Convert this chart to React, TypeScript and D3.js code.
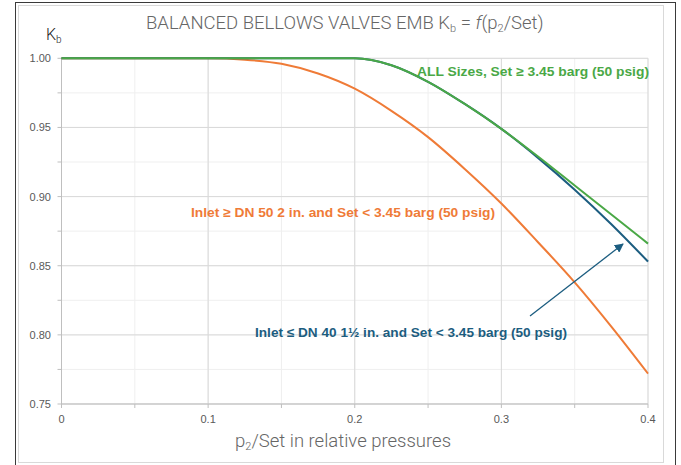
import React from "react";
import * as d3 from "d3";

const xTicks = [0, 0.1, 0.2, 0.3, 0.4];
const yTicks = [0.75, 0.8, 0.85, 0.9, 0.95, 1.0];

const orangeX = [0, 0.05, 0.1, 0.125, 0.15, 0.175, 0.2, 0.225, 0.25, 0.275, 0.3, 0.325, 0.35, 0.375, 0.4];
const orangeY = [1, 1, 1, 0.999, 0.996, 0.989, 0.978, 0.962, 0.943, 0.92, 0.895, 0.867, 0.838, 0.806, 0.772];

const greenX = [0, 0.05, 0.1, 0.15, 0.2, 0.225, 0.25, 0.275, 0.3, 0.325, 0.35, 0.375, 0.4];
const greenY = [1, 1, 1, 1, 1, 0.995, 0.983, 0.967, 0.949, 0.929, 0.908, 0.887, 0.866];

const blueX = [0, 0.05, 0.1, 0.15, 0.2, 0.225, 0.25, 0.275, 0.3, 0.325, 0.35, 0.375, 0.4];
const blueY = [1, 1, 1, 1, 1, 0.995, 0.983, 0.967, 0.949, 0.928, 0.905, 0.88, 0.853];

const W = 681;
const H = 465;
const L = 61.5;
const R = 648;
const T = 58.3;
const B = 404;

const GREEN = "#4aa846";
const ORANGE = "#ef7b37";
const BLUE = "#1c5d80";

export default function App() {
  const x = d3.scaleLinear().domain([0, 0.4]).range([L, R]);
  const y = d3.scaleLinear().domain([0.75, 1.0]).range([B, T]);
  const line = d3
    .line<[number, number]>()
    .x((d) => x(d[0]))
    .y((d) => y(d[1]))
    .curve(d3.curveMonotoneX);

  const toPts = (xs: number[], ys: number[]) => xs.map((v, i) => [v, ys[i]] as [number, number]);

  const xMinor = d3.range(0, 0.4001, 0.05);
  const yMinor = d3.range(0.75, 1.0001, 0.025);

  const font = "'Liberation Sans', Arial, sans-serif";
  const titleFont = "Roboto, 'Noto Sans', sans-serif";

  return (
    <div style={{ position: "fixed", left: 0, top: 0 }}>
      <svg width={W} height={H} style={{ display: "block", background: "#fff" }}>
        <defs>
          <marker id="arrow" viewBox="0 0 10 10" refX="9" refY="5" markerWidth="7" markerHeight="7" orient="auto">
            <path d="M0,0 L10,5 L0,10 z" fill={BLUE} />
          </marker>
        </defs>
        {/* frame */}
        <rect x={15.5} y={2.5} width={660} height={470} fill="none" stroke="#3a3a3a" strokeWidth={1} />
        <rect x={18.5} y={5.5} width={645} height={457} fill="none" stroke="#d9d9d9" strokeWidth={1} />

        {/* minor grid */}
        {xMinor.map((v, i) => (
          <line key={"xm" + i} x1={x(v)} x2={x(v)} y1={T} y2={B} stroke="#efefef" />
        ))}
        {yMinor.map((v, i) => (
          <line key={"ym" + i} x1={L} x2={R} y1={y(v)} y2={y(v)} stroke="#efefef" />
        ))}
        {/* major grid */}
        {xTicks.map((v, i) => (
          <line key={"xg" + i} x1={x(v)} x2={x(v)} y1={T} y2={B} stroke="#d9d9d9" />
        ))}
        {yTicks.map((v, i) => (
          <line key={"yg" + i} x1={L} x2={R} y1={y(v)} y2={y(v)} stroke="#d9d9d9" />
        ))}

        {/* axes */}
        <line x1={L} x2={L} y1={T} y2={B} stroke="#bfbfbf" />
        <line x1={L} x2={R} y1={B} y2={B} stroke="#bfbfbf" />
        {yMinor.map((v, i) => (
          <line key={"yt" + i} x1={L - 4} x2={L} y1={y(v)} y2={y(v)} stroke="#bfbfbf" />
        ))}
        {xMinor.map((v, i) => (
          <line key={"xt" + i} x1={x(v)} x2={x(v)} y1={B} y2={B + 4} stroke="#bfbfbf" />
        ))}

        {/* tick labels */}
        {yTicks.map((v, i) => (
          <text key={"yl" + i} x={51} y={y(v) + 4} textAnchor="end" fontFamily={font} fontSize={11} fill="#595959">
            {v.toFixed(2)}
          </text>
        ))}
        {xTicks.map((v, i) => (
          <text key={"xl" + i} x={x(v)} y={423} textAnchor="middle" fontFamily={font} fontSize={11} fill="#595959">
            {v === 0 ? "0" : String(v)}
          </text>
        ))}

        {/* curves */}
        <path d={line(toPts(orangeX, orangeY)) || ""} fill="none" stroke={ORANGE} strokeWidth={2} />
        <path d={line(toPts(blueX, blueY)) || ""} fill="none" stroke={BLUE} strokeWidth={2} />
        <path d={line(toPts(greenX, greenY)) || ""} fill="none" stroke={GREEN} strokeWidth={2} />

        {/* annotation arrow */}
        <line x1={530} y1={316} x2={623} y2={244} stroke={BLUE} strokeWidth={1.3} markerEnd="url(#arrow)" />

        {/* series labels */}
        <text x={417} y={76} fontFamily={font} fontWeight="bold" fontSize={13} fill={GREEN} textLength={232} lengthAdjust="spacingAndGlyphs">
          ALL Sizes, Set ≥ 3.45 barg (50 psig)
        </text>
        <text x={191} y={217} fontFamily={font} fontWeight="bold" fontSize={13} fill={ORANGE} textLength={304} lengthAdjust="spacingAndGlyphs">
          Inlet ≥ DN 50 2 in. and Set &lt; 3.45 barg (50 psig)
        </text>
        <text x={255} y={337} fontFamily={font} fontWeight="bold" fontSize={13} fill={BLUE} textLength={312} lengthAdjust="spacingAndGlyphs">
          Inlet ≤ DN 40 1½ in. and Set &lt; 3.45 barg (50 psig)
        </text>

        {/* title */}
        <text x={146} y={29} fontFamily={titleFont} fontWeight={300} fontSize={18.5} fill="#666">
          BALANCED BELLOWS VALVES EMB K
          <tspan fontSize={11} dy={3}>b</tspan>
          <tspan dy={-3}> = </tspan>
          <tspan fontStyle="italic">f</tspan>
          <tspan>(p</tspan>
          <tspan fontSize={11} dy={3}>2</tspan>
          <tspan dy={-3}>/Set)</tspan>
        </text>

        {/* y axis title */}
        <text x={46} y={40} fontFamily={titleFont} fontWeight={300} fontSize={16} fill="#222">
          K<tspan fontSize={10} dy={3}>b</tspan>
        </text>

        {/* x axis title */}
        <text x={235} y={447} fontFamily={titleFont} fontWeight={300} fontSize={18.5} fill="#666">
          p<tspan fontSize={11} dy={3}>2</tspan>
          <tspan dy={-3}>/Set in relative pressures</tspan>
        </text>
      </svg>
    </div>
  );
}
